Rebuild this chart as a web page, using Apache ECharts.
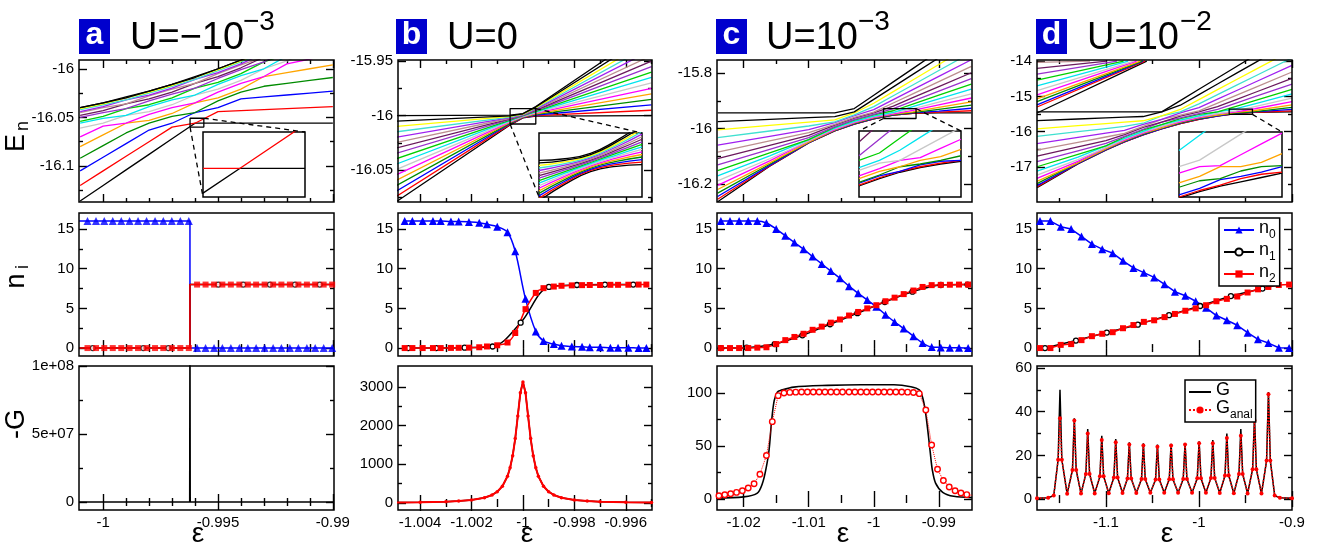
<!DOCTYPE html>
<html>
<head>
<meta charset="utf-8">
<title>levels, populations and -G</title>
<script src="https://cdn.jsdelivr.net/npm/echarts@6.0.0/dist/echarts.min.js"></script>
<style>
html, body { margin: 0; padding: 0; background: #fff; }
#chartmain { width: 1317px; height: 545px; }
</style>
</head>
<body>
<div id="chartmain"></div>
<script>
var FONT = '"Liberation Sans", Arial, Helvetica, sans-serif';
var E0 = -16;   // every level array below holds (E - E0) in units of 1e-3

// ---------- top row: energy levels ----------
// a : U = -1e-3
var epsLvA = [-1.001, -1.000, -0.999, -0.998, -0.997, -0.996, -0.995, -0.994, -0.993, -0.992, -0.991, -0.990];
var levelsA = [
  [-136, -120, -104, -88, -72, -56, -56, -56, -56, -56, -56, -56],
  [-120, -105, -90, -75, -60, -56, -44, -43, -42, -41, -40, -39],
  [-105, -91, -77, -63, -56, -45, -40, -31, -29, -27, -25, -23],
  [-92, -79, -66, -56, -49, -45, -33, -24, -18, -15, -12, -9],
  [-80, -68, -56, -53, -46, -35, -30, -21, -8, -4, 0, 4],
  [-70, -59, -56, -47, -40, -35, -24, -15, -8, 5, 10, 15],
  [-61, -56, -48, -44, -37, -27, -21, -12, 0, 8, 19, 25],
  [-56, -51, -48, -39, -32, -27, -16, -7, 0, 13, 24, 33],
  [-54, -49, -41, -37, -30, -20, -14, -5, 7, 15, 26, 40],
  [-50, -45, -41, -33, -26, -20, -10, -1, 7, 19, 30, 40],
  [-48, -43, -36, -31, -24, -15, -8, 1, 12, 21, 32, 45],
  [-45, -40, -36, -28, -21, -15, -5, 4, 12, 24, 35, 45],
  [-44, -39, -32, -27, -20, -11, -4, 5, 16, 25, 36, 49],
  [-42, -37, -32, -25, -18, -11, -2, 7, 16, 27, 38, 49],
  [-41, -36, -30, -24, -17, -9, -1, 8, 18, 28, 39, 51],
  [-40, -35, -30, -23, -16, -9, 0, 9, 18, 29, 40, 51],
  [-40, -35, -29, -23, -16, -8, 0, 9, 19, 29, 40, 52]
];
var insWinA = [-0.996216, -0.995616, -16.06, -16.0509];
var insEpsA = [-0.996216, -0.996, -0.995616];
var insLvA = [[-59.46, -56, -56], [-56, -56, -49.86]];

// b : U = 0
var epsLvB = [-1.005, -1.0005, -1.0, -0.9995, -0.995];
var levelsB = [
  [-80, -8.47, -2, -0.47, 0], [-75, -7.91, -1.75, 0.09, 5], [-70, -7.35, -1.5, 0.65, 10],
  [-65, -6.8, -1.25, 1.21, 15], [-60, -6.24, -1, 1.76, 20], [-55, -5.68, -0.75, 2.32, 25],
  [-50, -5.12, -0.5, 2.88, 30], [-45, -4.56, -0.25, 3.44, 35], [-40, -4, 0, 4, 40],
  [-35, -3.44, 0.25, 4.56, 45], [-30, -2.88, 0.5, 5.12, 50], [-25, -2.32, 0.75, 5.68, 55],
  [-20, -1.76, 1, 6.24, 60], [-15, -1.21, 1.25, 6.8, 65], [-10, -0.65, 1.5, 7.35, 70],
  [-5, -0.09, 1.75, 7.91, 75], [0, 0.47, 2, 8.47, 80]
];
var insWinB = [-1.0005, -0.9995, -16.0076, -15.9935];
var insEpsB = [-1.0005, -1.00025, -1.0, -0.99975, -0.9995];
var insLvB = [
  [-8.47, -4.83, -2, -0.83, -0.47], [-7.91, -4.48, -1.75, -0.48, 0.09], [-7.35, -4.12, -1.5, -0.12, 0.65],
  [-6.8, -3.77, -1.25, 0.23, 1.21], [-6.24, -3.42, -1, 0.58, 1.76], [-5.68, -3.06, -0.75, 0.94, 2.32],
  [-5.12, -2.71, -0.5, 1.29, 2.88], [-4.56, -2.35, -0.25, 1.65, 3.44], [-4, -2, 0, 2, 4],
  [-3.44, -1.65, 0.25, 2.35, 4.56], [-2.88, -1.29, 0.5, 2.71, 5.12], [-2.32, -0.94, 0.75, 3.06, 5.68],
  [-1.76, -0.58, 1, 3.42, 6.24], [-1.21, -0.23, 1.25, 3.77, 6.8], [-0.65, 0.12, 1.5, 4.12, 7.35],
  [-0.09, 0.48, 1.75, 4.48, 7.91], [0.47, 0.83, 2, 4.83, 8.47]
];

// c : U = 1e-3
var epsLvC = [-1.024, -1.016, -1.010, -1.006, -1.003, -1.000, -0.997, -0.994, -0.990, -0.985];
var levelsC = [
  [-264, -136, -52, -9, 16, 35, 48, 55, 56, 56],
  [-255, -135, -51, -9, 16, 35, 48, 55, 59, 64],
  [-245, -133, -51, -8, 17, 36, 49, 56, 63, 73],
  [-233, -129, -49, -7, 18, 37, 50, 57, 69, 84],
  [-220, -124, -49, -5, 20, 39, 52, 60, 76, 96],
  [-205, -117, -45, -4, 21, 40, 53, 65, 85, 110],
  [-189, -109, -45, -1, 24, 43, 56, 71, 95, 125],
  [-171, -99, -40, 1, 26, 45, 58, 79, 107, 142],
  [-152, -88, -40, 5, 30, 49, 64, 88, 120, 160],
  [-131, -75, -33, 7, 32, 51, 72, 99, 135, 180],
  [-109, -61, -25, 12, 37, 56, 81, 111, 151, 201],
  [-85, -45, -15, 15, 40, 59, 92, 125, 169, 224],
  [-60, -28, -4, 21, 46, 68, 104, 140, 188, 248],
  [-33, -9, 9, 24, 49, 79, 118, 157, 209, 274],
  [-5, 11, 23, 31, 56, 91, 133, 175, 231, 301],
  [25, 33, 39, 43, 60, 105, 150, 195, 255, 330],
  [56, 56, 56, 56, 72, 120, 168, 216, 280, 360]
];
var insWinC = [-0.9985, -0.9935, -15.964, -15.928];
var insEpsC = [-0.9985, -0.9975, -0.9965, -0.9955, -0.9945, -0.9935];
var insLvC = [
  [42, 46, 49.5, 52, 54, 55.5], [42.5, 46.5, 50, 52.5, 54.5, 56], [43.5, 47.5, 50, 53.5, 55.5, 56],
  [44, 48, 52.5, 54, 56, 58.5], [46, 50, 52.5, 56, 58, 62], [47.5, 51.5, 56, 57.5, 62.5, 67.5],
  [50.5, 54.5, 56, 62, 68, 74], [52, 56, 61.5, 68.5, 75.5, 82.5], [56, 60, 68, 76, 84, 92],
  [58.5, 67.5, 76.5, 85.5, 94.5, 103.5], [66, 76, 86, 96, 106, 116]
];

// d : U = 1e-2
var epsLvD = [-1.174, -1.13, -1.1, -1.08, -1.06, -1.04, -1.02, -1.0, -0.98, -0.96, -0.94, -0.9];
var levelsD = [
  [-1584, -910, -520, -290, -90, 80, 230, 350, 440, 510, 550, 560],
  [-1560, -900, -510, -290, -90, 90, 230, 350, 450, 510, 550, 590],
  [-1526, -900, -510, -280, -80, 90, 240, 360, 450, 520, 560, 630],
  [-1472, -880, -490, -270, -70, 110, 250, 370, 470, 530, 570, 690],
  [-1408, -880, -490, -250, -50, 110, 270, 390, 470, 550, 600, 760],
  [-1324, -840, -450, -240, -40, 150, 280, 400, 510, 560, 650, 850],
  [-1230, -790, -450, -210, -10, 150, 310, 430, 510, 590, 710, 950],
  [-1116, -720, -400, -190, 10, 200, 330, 450, 560, 650, 790, 1070],
  [-992, -640, -400, -150, 50, 200, 370, 490, 560, 720, 880, 1200],
  [-848, -540, -330, -130, 70, 270, 390, 510, 630, 810, 990, 1350],
  [-694, -430, -250, -80, 120, 270, 440, 560, 710, 910, 1110, 1510],
  [-520, -300, -150, -50, 150, 350, 470, 590, 810, 1030, 1250, 1690],
  [-336, -160, -40, 40, 210, 350, 530, 680, 920, 1160, 1400, 1880],
  [-132, 0, 90, 150, 240, 450, 560, 790, 1050, 1310, 1570, 2090],
  [82, 170, 230, 270, 310, 450, 630, 910, 1190, 1470, 1750, 2310],
  [316, 360, 390, 410, 430, 560, 750, 1050, 1350, 1650, 1950, 2550],
  [560, 560, 560, 560, 560, 560, 880, 1200, 1520, 1840, 2160, 2800]
];
// the upper bundle in the top-left corner of d: value at the left edge, and eps where it leaves the top
var upLeftD = [-15.47, -15.30, -15.24, -15.15, -15.07, -14.96, -14.84, -14.70, -14.54, -14.37, -14.21, -14.04];
var upTopXD = [-1.056, -1.058, -1.060, -1.061, -1.063, -1.067, -1.070, -1.076, -1.081, -1.088, -1.099, -1.117];
var insWinD = [-0.9675, -0.9425, -15.51, -15.36];
var insEpsD = [-0.9675, -0.9625, -0.9575, -0.9525, -0.9475, -0.9425];
var insLvD = [
  [487.5, 502.5, 515, 525, 535, 545], [490, 505, 517.5, 532.5, 542.5, 547.5], [495, 510, 530, 537.5, 547.5, 560],
  [512.5, 527.5, 532.5, 550, 560, 562.5], [522.5, 537.5, 560, 560, 570, 590], [545, 560, 562.5, 587.5, 612.5, 637.5],
  [560, 575, 605, 635, 665, 695], [597.5, 632.5, 667.5, 702.5, 737.5, 772.5], [660, 700, 740, 780, 820, 860]
];

// ---------- middle row: populations ----------
var stepEpsA = [-1.00105, -0.99622, -0.99622, -0.98995];
var n0StepA = [16, 16, 0, 0];
var n12StepA = [0, 0, 8, 8];
var epsMkA = [-1.00068, -1.00031, -0.99995, -0.99958, -0.99921, -0.99885, -0.99848, -0.99811, -0.99774, -0.99738,
  -0.99701, -0.99664, -0.99627, -0.99591, -0.99554, -0.99517, -0.99481, -0.99444, -0.99407, -0.9937,
  -0.99334, -0.99297, -0.9926, -0.99224, -0.99187, -0.9915, -0.99113, -0.99077, -0.9904, -0.99003];
var n0MkA = [16, 16, 16, 16, 16, 16, 16, 16, 16, 16, 16, 16, 16, 0, 0, 0, 0, 0, 0, 0, 0, 0, 0, 0, 0, 0, 0, 0, 0, 0];
var n2MkA = [0, 0, 0, 0, 0, 0, 0, 0, 0, 0, 0, 0, 0, 8, 8, 8, 8, 8, 8, 8, 8, 8, 8, 8, 8, 8, 8, 8, 8, 8];
var eps1A = [-1.00045, -0.99825, -0.99716, -0.99499, -0.9939, -0.99274, -0.99165, -0.99057];
var n1A = [0, 0, 0, 8, 8, 8, 8, 8];

var epsMkB = [-1.0046, -1.0043, -1.0039, -1.0035, -1.0032, -1.0028, -1.0025, -1.0021, -1.0017, -1.0014,
  -1.0010, -1.0006, -1.0003, -0.9999, -0.9995, -0.9992, -0.9988, -0.9985, -0.9981, -0.9977,
  -0.9974, -0.9970, -0.9966, -0.9963, -0.9959, -0.9955, -0.9952];
var n0B = [16, 16, 16, 16, 16, 15.95, 15.95, 15.9, 15.8, 15.6, 15.3, 14.6, 12.2, 6.2, 2.1, 0.9, 0.5, 0.3, 0.2, 0.15,
  0.1, 0.1, 0.05, 0.05, 0.05, 0, 0];
var n2B = [0, 0, 0, 0, 0, 0.02, 0.03, 0.05, 0.1, 0.2, 0.35, 0.7, 1.9, 4.9, 6.95, 7.55, 7.75, 7.85, 7.9, 7.93,
  7.95, 7.95, 7.97, 7.97, 7.98, 8, 8];
var eps1B = [-1.00446, -1.00337, -1.00227, -1.00118, -1.00009, -0.99899, -0.9979, -0.99681, -0.99571];
var n1B = [0, 0, 0.05, 0.2, 3.2, 7.7, 7.95, 8, 8];

var epsMkC = [-1.0235, -1.0221, -1.0207, -1.0193, -1.0179, -1.0165, -1.0150, -1.0136, -1.0122, -1.0108,
  -1.0094, -1.0080, -1.0066, -1.0052, -1.0038, -1.0024, -1.0010, -0.9996, -0.9982, -0.9968,
  -0.9954, -0.9939, -0.9925, -0.9911, -0.9897, -0.9883, -0.9869, -0.9855];
var n0C = [16, 16, 16, 16, 16, 15.76, 15.0, 14.15, 13.3, 12.46, 11.53, 10.6, 9.7, 8.8, 7.8, 6.9, 6.05, 5.2, 4.2, 3.3,
  2.45, 1.5, 0.63, 0.13, 0.08, 0.04, 0.04, 0];
var n2C = [0, 0, 0, 0, 0.05, 0.1, 0.5, 1.0, 1.4, 1.8, 2.3, 2.7, 3.2, 3.6, 4.1, 4.55, 5.0, 5.4, 5.9, 6.35,
  6.8, 7.25, 7.7, 7.93, 7.96, 7.98, 8, 8];
var eps1C = [-1.02354, -1.01954, -1.01523, -1.01097, -1.00672, -1.00251, -0.99831, -0.99405, -0.98969, -0.98558];
var n1C = [0, 0.05, 0.5, 1.6, 3.0, 4.4, 5.8, 7.1, 7.95, 8];

var epsMkD = [-1.1708, -1.1596, -1.1485, -1.1373, -1.1262, -1.1150, -1.1039, -1.0927, -1.0816, -1.0704,
  -1.0592, -1.0481, -1.0369, -1.0258, -1.0146, -1.0035, -0.9923, -0.9812, -0.9700, -0.9588,
  -0.9477, -0.9365, -0.9254, -0.9142, -0.9031];
var n0D = [16, 16, 15.3, 15.0, 14.07, 13.1, 12.46, 11.96, 11.0, 10.1, 9.5, 8.9, 8.03, 7.1, 6.6, 5.9, 5.07, 4.1, 3.5,
  2.87, 1.94, 1.1, 0.63, 0.04, 0];
var n2D = [0, 0, 0.4, 0.5, 1.0, 1.5, 1.8, 2.0, 2.5, 2.9, 3.3, 3.5, 3.9, 4.3, 4.7, 5.0, 5.4, 5.9, 6.2, 6.5,
  7.0, 7.4, 7.7, 7.95, 8];
var eps1D = [-1.1654, -1.1321, -1.099, -1.0657, -1.0321, -0.9987, -0.9657, -0.9317];
var n1D = [0, 0.95, 1.95, 2.95, 4.15, 5.3, 6.55, 7.5];

// ---------- bottom row: -G ----------
var gEpsA = [-1.00105, -0.99623, -0.99622, -0.99621, -0.98995];
var gA = [0, 0, 1.2e8, 0, 0];

var gEpsB = [-1.005, -1.004, -1.003, -1.0025, -1.002, -1.0015, -1.0012, -1.001, -1.0008, -1.0006, -1.0005,
  -1.0004, -1.0003, -1.0002, -1.0001, -1.0, -0.9999, -0.9998, -0.9997, -0.9996, -0.9995, -0.9994,
  -0.9992, -0.999, -0.9988, -0.9985, -0.998, -0.9975, -0.997, -0.996, -0.995];
var gB = [13, 20, 35, 50, 78, 136, 208, 291, 432, 693, 910, 1221, 1666, 2250, 2851, 3130, 2851, 2250,
  1666, 1221, 910, 693, 432, 291, 208, 136, 78, 50, 35, 20, 13];

var gEpsC = [-1.0242, -1.02, -1.0179, -1.0171, -1.0166, -1.0161, -1.0157, -1.0153, -1.0148, -1.0143, -1.0123,
  -1.0071, -1.002, -0.9969, -0.9943, -0.993, -0.9925, -0.9921, -0.9917, -0.9913, -0.991, -0.9905,
  -0.9894, -0.9877, -0.9849];
var gC = [0.8, 2, 5.6, 15, 27.5, 46, 74, 93, 101, 102.5, 105.6, 107.2, 107.8, 107.8, 106, 103, 96, 84, 65, 43,
  27.5, 15, 6.3, 2.5, 1.3];
var gaEpsC = [-1.0238, -1.0229, -1.0220, -1.0211, -1.0202, -1.0193, -1.0184, -1.0175, -1.0165, -1.0156,
  -1.0147, -1.0138, -1.0129, -1.0120, -1.0111, -1.0102, -1.0093, -1.0084, -1.0075, -1.0066,
  -1.0057, -1.0048, -1.0038, -1.0029, -1.0020, -1.0011, -1.0002, -0.9993, -0.9984, -0.9975,
  -0.9966, -0.9957, -0.9948, -0.9939, -0.9930, -0.9920, -0.9911, -0.9902, -0.9893, -0.9884,
  -0.9875, -0.9866, -0.9857, -0.9848];
var gaC = [3.1, 4.0, 5.0, 6.2, 7.8, 10.3, 14.4, 23.4, 41, 73, 97.5, 100, 100.6, 100.8, 101, 101, 101, 101,
  101, 101, 101, 101, 101, 101, 101, 101, 101, 101, 101, 101, 101, 101, 100.8, 100.5, 99.4, 84, 51, 28,
  17.5, 11.3, 7.8, 5.6, 4.1, 3.4];

var gEpsD = [-1.174, -1.162, -1.156,
  -1.1513, -1.1493, -1.1473, -1.1416, -1.1359, -1.1339, -1.1319, -1.1267,
  -1.1215, -1.1195, -1.1175, -1.1120, -1.1064, -1.1044, -1.1024, -1.0969,
  -1.0914, -1.0894, -1.0874, -1.0821, -1.0768, -1.0748, -1.0728, -1.0673,
  -1.0617, -1.0597, -1.0577, -1.0522, -1.0466, -1.0446, -1.0426, -1.0373,
  -1.0319, -1.0299, -1.0279, -1.0224, -1.0169, -1.0149, -1.0129, -1.0074,
  -1.0018, -0.9998, -0.9978, -0.9925, -0.9871, -0.9851, -0.9831, -0.9776,
  -0.9720, -0.9700, -0.9680, -0.9625, -0.9570, -0.9550, -0.9530, -0.9477,
  -0.9423, -0.9403, -0.9383, -0.9328, -0.9273, -0.9253, -0.9233,
  -0.9186, -0.913, -0.9];
var gD = [0.4, 0.6, 1.6,
  18, 50, 18, 2.4, 13.3, 37, 13.3, 2.5,
  11.5, 32, 11.5, 2.6, 10.4, 29, 10.4, 2.7,
  9.9, 27.5, 9.9, 2.8, 9.4, 26, 9.4, 2.8,
  9.2, 25.5, 9.2, 2.9, 9, 25, 9, 2.9,
  9.1, 25.3, 9.1, 2.9, 9.2, 25.5, 9.2, 2.9,
  9.5, 26.5, 9.5, 2.9, 9.7, 27, 9.7, 2.8,
  10.8, 30, 10.8, 2.7, 11.5, 32, 11.5, 2.6,
  13.7, 38, 13.7, 2.5, 17.6, 49, 17.6,
  1.6, 0.6, 0.4];
var gaD = [0.4, 0.6, 1.6,
  18, 37, 18, 2.4, 13.3, 36, 13.3, 2.5,
  11.5, 30, 11.5, 2.6, 10.4, 27, 10.4, 2.7,
  9.9, 26, 9.9, 2.8, 9.4, 25, 9.4, 2.8,
  9.2, 24.5, 9.2, 2.9, 9, 24, 9, 2.9,
  9.1, 24.5, 9.1, 2.9, 9.2, 25, 9.2, 2.9,
  9.5, 25.5, 9.5, 2.9, 9.7, 25.5, 9.7, 2.8,
  10.8, 28, 10.8, 2.7, 11.5, 29, 11.5, 2.6,
  13.7, 36, 13.7, 2.5, 17.6, 48, 17.6,
  1.6, 0.6, 0.4];

// ---------- axes: ranges and ticks ----------
var xRange = [[-1.00105, -0.98995], [-1.00486, -0.99498], [-1.0241, -0.9849], [-1.174, -0.9]];
var xTicks = [
  [[-1, -0.995, -0.99], [-0.999, -0.998, -0.997, -0.996, -0.994, -0.993, -0.992, -0.991]],
  [[-1.004, -1.002, -1, -0.998, -0.996], [-1.003, -1.001, -0.999, -0.997, -0.995]],
  [[-1.02, -1.01, -1, -0.99], [-1.015, -1.005, -0.995]],
  [[-1.1, -1, -0.9], [-1.15, -1.05, -0.95]]
];
var yRangeTop = [[-16.137, -15.991], [-16.079, -15.949], [-16.265, -15.753], [-17.99, -13.97]];
var yTicksTop = [
  [[-16.1, -16.05, -16], [-16.125, -16.075, -16.025]],
  [[-16.05, -16, -15.95], [-16.075, -16.025, -15.975]],
  [[-16.2, -16, -15.8], [-16.1, -15.9]],
  [[-17, -16, -15, -14], [-17.5, -16.5, -15.5, -14.5]]
];
var yRangeMid = [-1, 17.02];
var yTicksMid = [[0, 5, 10, 15], [2.5, 7.5, 12.5]];
var yRangeBot = [[-5.9e6, 1e8], [-181, 3543], [-10.4, 125.5], [-5, 60.9]];
var yTicksBot = [
  [[0, 5e7, 1e8], [2.5e7, 7.5e7]],
  [[0, 1000, 2000, 3000], [500, 1500, 2500]],
  [[0, 50, 100], [25, 75]],
  [[0, 20, 40, 60], [10, 30, 50]]
];

var PAL = ['#000000', '#ff0000', '#0000ff', '#008b00', '#ffa500', '#ff00ff', '#c8c8c8', '#00e5ee', '#00d000',
  '#9932cc', '#6b1a5e', '#bc8f8f', '#a020f0', '#40e0d0', '#ffff00', '#000000', '#000000'];

var COLX = [79, 398, 717, 1037];
var COLW = [255, 254, 255, 255];
var ROWY = [60, 213, 366];
var ROWH = [142, 143, 144];

var grids = [], xAxes = [], yAxes = [], series = [];

var fmtNum = function (v) { return String(v); };
var fmtExp = function (v) { return v === 0 ? '0' : v.toExponential(0).replace('e+', 'e+0'); };

function tickAxis(gi, pos, r, ticks, len, lab) {
  return {
    gridIndex: gi, type: 'value', position: pos, min: r[0], max: r[1],
    axisLine: {show: false},
    splitLine: {show: false},
    axisTick: {show: true, inside: true, length: len, customValues: ticks,
      lineStyle: {color: '#000', width: 1.4}},
    axisLabel: lab ? {show: true, customValues: ticks, formatter: lab, color: '#000',
      fontSize: 15, fontFamily: FONT, margin: 5} : {show: false}
  };
}

function panel(col, row, xr, yr, xt, yt, xLab, yLab) {
  var gi = grids.length;
  grids.push({left: COLX[col], top: ROWY[row], width: COLW[col], height: ROWH[row],
    show: true, borderColor: '#000', borderWidth: 1.5, backgroundColor: 'rgba(0,0,0,0)', z: 3});
  var ax = {x: xAxes.length, y: yAxes.length};
  xAxes.push(tickAxis(gi, 'bottom', xr, xt[0], 8, xLab));
  xAxes.push(tickAxis(gi, 'bottom', xr, xt[1], 4, null));
  xAxes.push(tickAxis(gi, 'top', xr, xt[0], 8, null));
  xAxes.push(tickAxis(gi, 'top', xr, xt[1], 4, null));
  yAxes.push(tickAxis(gi, 'left', yr, yt[0], 8, yLab));
  yAxes.push(tickAxis(gi, 'left', yr, yt[1], 4, null));
  yAxes.push(tickAxis(gi, 'right', yr, yt[0], 8, null));
  yAxes.push(tickAxis(gi, 'right', yr, yt[1], 4, null));
  return ax;
}

function inset(box, win) {
  var gi = grids.length;
  grids.push({left: box[0], top: box[1], width: box[2], height: box[3], show: true,
    borderColor: '#000', borderWidth: 1.5, backgroundColor: '#fff', z: 5});
  xAxes.push({gridIndex: gi, type: 'value', min: win[0], max: win[1], show: false});
  yAxes.push({gridIndex: gi, type: 'value', min: win[2], max: win[3], show: false});
  return {x: xAxes.length - 1, y: yAxes.length - 1};
}

function xy(xs, ys) { return xs.map(function (x, i) { return [x, ys[i]]; }); }
function lv(xs, ys) { return xs.map(function (x, i) { return [x, E0 + ys[i] / 1000]; }); }

function line(ax, data, color, width, extra) {
  var s = {type: 'line', xAxisIndex: ax.x, yAxisIndex: ax.y, data: data, symbol: 'none', showSymbol: false,
    lineStyle: {color: color, width: width}, itemStyle: {color: color}, animation: false, z: 2, silent: true};
  if (extra) { for (var k in extra) { s[k] = extra[k]; } }
  series.push(s);
  return series.length - 1;
}

function windowRect(ax, win) {
  var d = [[win[0], win[2]], [win[1], win[2]], [win[1], win[3]], [win[0], win[3]], [win[0], win[2]]];
  return line(ax, d, '#000', 1.3, {z: 4});
}

// ---------- top row ----------
var rectIdx = [], insIdx = [];
var insetBoxes = [[203, 132, 102, 65], [539, 133, 103, 64], [859, 131, 102, 66], [1179, 132, 103, 65]];
var wins = [insWinA, insWinB, insWinC, insWinD];
var lvX = [epsLvA, epsLvB, epsLvC, epsLvD];
var lvY = [levelsA, levelsB, levelsC, levelsD];
var insX = [insEpsA, insEpsB, insEpsC, insEpsD];
var insY = [insLvA, insLvB, insLvC, insLvD];

for (var c = 0; c < 4; c++) {
  var ax = panel(c, 0, xRange[c], yRangeTop[c], xTicks[c], yTicksTop[c], null, fmtNum);
  for (var k = 0; k < lvY[c].length; k++) {
    line(ax, lv(lvX[c], lvY[c][k]), PAL[k], 1.3);
  }
  if (c === 3) {
    for (var u = 0; u < upLeftD.length; u++) {
      line(ax, [[xRange[3][0], upLeftD[u]], [upTopXD[u], -14]], PAL[u], 1.3);
    }
  }
  rectIdx.push(windowRect(ax, wins[c]));
}
for (c = 0; c < 4; c++) {
  var iax = inset(insetBoxes[c], wins[c]);
  var first = -1;
  for (k = 0; k < insY[c].length; k++) {
    var si = line(iax, lv(insX[c], insY[c][k]), PAL[k], 1.3, {z: 6, smooth: c === 1 ? 0.5 : false});
    if (first < 0) { first = si; }
  }
  insIdx.push(first);
}

// ---------- middle row ----------
var NSTYLE = {
  n0: {color: '#0000ff', symbol: 'triangle', size: 8, item: {color: '#0000ff'}},
  n1: {color: '#000000', symbol: 'circle', size: 5, item: {color: '#ffffff', borderColor: '#000', borderWidth: 1.3}},
  n2: {color: '#ff0000', symbol: 'rect', size: 6, item: {color: '#ff0000'}}
};
function nSeries(ax, xs, ys, kind, named, smooth) {
  var st = NSTYLE[kind];
  series.push({type: 'line', name: named ? kind : 'x' + kind, xAxisIndex: ax.x, yAxisIndex: ax.y,
    data: xy(xs, ys), symbol: st.symbol, symbolSize: st.size, showSymbol: true, showAllSymbol: true,
    smooth: smooth, lineStyle: {color: st.color, width: 1.5}, itemStyle: st.item,
    animation: false, z: 3, silent: true});
}
function nMarks(ax, xs, ys, kind) {
  var st = NSTYLE[kind];
  series.push({type: 'scatter', xAxisIndex: ax.x, yAxisIndex: ax.y, data: xy(xs, ys),
    symbol: st.symbol, symbolSize: st.size, itemStyle: st.item, animation: false, z: 3, silent: true});
}

var midA = panel(0, 1, xRange[0], yRangeMid, xTicks[0], yTicksMid, null, fmtNum);
line(midA, xy(stepEpsA, n0StepA), '#0000ff', 1.5);
line(midA, xy(stepEpsA, n12StepA), '#000000', 1.5);
line(midA, xy(stepEpsA, n12StepA), '#ff0000', 1.5);
nMarks(midA, epsMkA, n0MkA, 'n0');
nMarks(midA, eps1A, n1A, 'n1');
nMarks(midA, epsMkA, n2MkA, 'n2');

var midB = panel(1, 1, xRange[1], yRangeMid, xTicks[1], yTicksMid, null, fmtNum);
nSeries(midB, epsMkB, n0B, 'n0', false, 0.35);
nSeries(midB, eps1B, n1B, 'n1', false, 0.35);
nSeries(midB, epsMkB, n2B, 'n2', false, 0.35);

var midC = panel(2, 1, xRange[2], yRangeMid, xTicks[2], yTicksMid, null, fmtNum);
nSeries(midC, epsMkC, n0C, 'n0', false, 0.3);
nSeries(midC, eps1C, n1C, 'n1', false, 0.3);
nSeries(midC, epsMkC, n2C, 'n2', false, 0.3);

var midD = panel(3, 1, xRange[3], yRangeMid, xTicks[3], yTicksMid, null, fmtNum);
nSeries(midD, epsMkD, n0D, 'n0', true, false);
nSeries(midD, eps1D, n1D, 'n1', true, false);
nSeries(midD, epsMkD, n2D, 'n2', true, false);

// ---------- bottom row ----------
var botA = panel(0, 2, xRange[0], yRangeBot[0], xTicks[0], yTicksBot[0], fmtNum, fmtExp);
line(botA, xy(gEpsA, gA), '#000', 1.6);

var botB = panel(1, 2, xRange[1], yRangeBot[1], xTicks[1], yTicksBot[1], fmtNum, fmtNum);
line(botB, xy(gEpsB, gB), '#000', 1.5);
line(botB, xy(gEpsB, gB), '#ff0000', 2, {symbol: 'circle', symbolSize: 3.5, showSymbol: true, showAllSymbol: true, z: 3});

var botC = panel(2, 2, xRange[2], yRangeBot[2], xTicks[2], yTicksBot[2], fmtNum, fmtNum);
line(botC, xy(gEpsC, gC), '#000', 1.6, {smooth: 0.3});
line(botC, xy(gaEpsC, gaC), '#ff0000', 1, {symbol: 'circle', symbolSize: 5.5, showSymbol: true, showAllSymbol: true,
  lineStyle: {color: '#ff0000', width: 1, type: 'dotted'},
  itemStyle: {color: '#ffffff', borderColor: '#ff0000', borderWidth: 1.4}, z: 3});

var botD = panel(3, 2, xRange[3], yRangeBot[3], xTicks[3], yTicksBot[3], fmtNum, fmtNum);
line(botD, xy(gEpsD, gD), '#000', 1.5, {name: 'G'});
line(botD, xy(gEpsD, gaD), '#ff0000', 1.5, {name: 'G_anal', symbol: 'circle', symbolSize: 4, showSymbol: true,
  showAllSymbol: true, lineStyle: {color: '#ff0000', width: 1.5, type: 'dotted'}, z: 3});

// ---------- titles and axis names ----------
var els = [];
var tags = [
  {t: 'a', bx: 79, main: 'U=\u221210', mx: 130, sup: '\u22123', sx: 243},
  {t: 'b', bx: 396, main: 'U=0', mx: 447, sup: '', sx: 0},
  {t: 'c', bx: 716, main: 'U=10', mx: 766, sup: '\u22123', sx: 858},
  {t: 'd', bx: 1036, main: 'U=10', mx: 1087, sup: '\u22122', sx: 1180}
];
tags.forEach(function (p, i) {
  els.push({type: 'rect', id: 'box' + i, shape: {x: p.bx, y: 19, width: 31, height: 35}, style: {fill: '#0000cd'}, z: 10});
  els.push({type: 'text', id: 'tag' + i, x: p.bx + 15.5, y: 35, z: 11,
    style: {text: p.t, fill: '#fff', fontSize: 32, fontWeight: 'bold', fontFamily: FONT, align: 'center', verticalAlign: 'middle'}});
  els.push({type: 'text', id: 'ttl' + i, x: p.mx, y: 39, z: 10,
    style: {text: p.main, fill: '#000', fontSize: 38, fontFamily: FONT, align: 'left', verticalAlign: 'middle'}});
  if (p.sup) {
    els.push({type: 'text', id: 'sup' + i, x: p.sx, y: 22, z: 10,
      style: {text: p.sup, fill: '#000', fontSize: 28, fontFamily: FONT, align: 'left', verticalAlign: 'middle'}});
  }
});
function vtext(id, txt, x, y, size) {
  els.push({type: 'text', id: id, x: x, y: y, rotation: Math.PI / 2, z: 10,
    style: {text: txt, fill: '#000', fontSize: size, fontFamily: FONT, align: 'center', verticalAlign: 'middle'}});
}
vtext('yE', 'E', 16.5, 143, 27);
vtext('yEn', 'n', 23, 126, 18);
vtext('yN', 'n', 17, 281, 27);
vtext('yNi', 'i', 23, 267, 18);
vtext('yG', '-G', 16.5, 424, 27);
[198, 527, 843, 1167].forEach(function (x, i) {
  els.push({type: 'text', id: 'eps' + i, x: x, y: 534, z: 10,
    style: {text: '\u03b5', fill: '#000', fontSize: 28, fontFamily: FONT, align: 'center', verticalAlign: 'middle'}});
});

var option = {
  animation: false,
  backgroundColor: '#fff',
  textStyle: {fontFamily: FONT},
  grid: grids,
  xAxis: xAxes,
  yAxis: yAxes,
  series: series,
  legend: [{
    data: ['n0', 'n1', 'n2'], orient: 'vertical', left: 1219, top: 218, selectedMode: false,
    itemWidth: 30, itemHeight: 9, itemGap: 0, padding: [1, 4, 1, 4],
    borderColor: '#000', borderWidth: 1.5, borderRadius: 0, backgroundColor: '#fff', z: 8,
    formatter: function (n) { return '{m|n}{s|' + n.slice(1) + '}'; },
    textStyle: {color: '#000', rich: {
      m: {fontSize: 18, fontFamily: FONT, padding: [0, 0, 4, 0]},
      s: {fontSize: 12, fontFamily: FONT, verticalAlign: 'bottom'}}}
  }, {
    data: [{name: 'G', itemStyle: {opacity: 0}}, 'G_anal'], orient: 'vertical', left: 1185, top: 380,
    selectedMode: false, itemWidth: 22, itemHeight: 9, itemGap: 0, padding: [1, 3, 1, 3],
    borderColor: '#000', borderWidth: 1.5, borderRadius: 0, backgroundColor: '#fff', z: 8,
    formatter: function (n) { return n === 'G' ? '{m|G}' : '{m|G}{s|anal}'; },
    textStyle: {color: '#000', rich: {
      m: {fontSize: 18, fontFamily: FONT, padding: [0, 0, 4, 0]},
      s: {fontSize: 12, fontFamily: FONT, verticalAlign: 'bottom'}}}
  }],
  graphic: {elements: els}
};

var myChart = echarts.init(document.getElementById('chartmain'));
myChart.setOption(option);

// dashed connectors from each zoom window to its inset
var links = [
  [['bl', 'bl'], ['tr', 'tr']],
  [['bl', 'bl'], ['tr', 'tr']],
  [['bl', 'tl'], ['tr', 'tr']],
  [['br', 'tr']]
];
function corner(win, k) {
  return [k.charAt(1) === 'l' ? win[0] : win[1], k.charAt(0) === 'b' ? win[2] : win[3]];
}
var extra = [];
links.forEach(function (list, c) {
  list.forEach(function (pair, j) {
    var p1 = myChart.convertToPixel({seriesIndex: rectIdx[c]}, corner(wins[c], pair[0]));
    var p2 = myChart.convertToPixel({seriesIndex: insIdx[c]}, corner(wins[c], pair[1]));
    extra.push({type: 'line', id: 'lk' + c + '_' + j, z: 7,
      shape: {x1: p1[0], y1: p1[1], x2: p2[0], y2: p2[1]},
      style: {stroke: '#000', lineWidth: 1.3, lineDash: [5, 4]}});
  });
});
myChart.setOption({graphic: {elements: extra}});
</script>
</body>
</html>
